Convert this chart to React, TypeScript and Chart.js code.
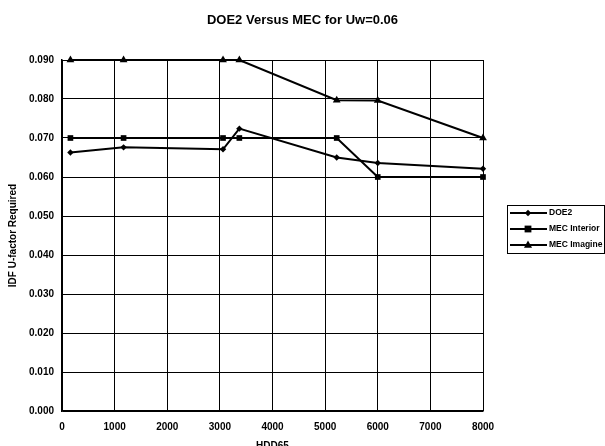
import React, { useEffect, useRef } from 'react';
import { Chart, registerables } from 'chart.js';

Chart.register(...registerables);

const hdd65 = [160, 1170, 3060, 3370, 5220, 6000, 8000];
const doe2 = [0.0663, 0.0676, 0.0671, 0.0724, 0.065, 0.0636, 0.0621];
const mecInterior = [0.07, 0.07, 0.07, 0.07, 0.07, 0.06, 0.06];
const mecImagine = [0.09, 0.09, 0.09, 0.09, 0.0797, 0.0796, 0.07];
const seriesNames = ['DOE2', 'MEC Interior', 'MEC Imagine'];
const pointStyles = ['rectRot', 'rect', 'triangle'];
const pointSizes = [3.2, 4, 4.5];

const FONT = '"Liberation Sans", Arial, sans-serif';

function drawMarker(ctx: CanvasRenderingContext2D, style: string, x: number, y: number, r: number) {
  ctx.beginPath();
  if (style === 'rectRot') {
    ctx.moveTo(x, y - r);
    ctx.lineTo(x + r, y);
    ctx.lineTo(x, y + r);
    ctx.lineTo(x - r, y);
  } else if (style === 'rect') {
    const s = r * 0.85;
    ctx.rect(x - s, y - s, s * 2, s * 2);
  } else {
    ctx.moveTo(x, y - r);
    ctx.lineTo(x + r * 0.9, y + r * 0.6);
    ctx.lineTo(x - r * 0.9, y + r * 0.6);
  }
  ctx.closePath();
  ctx.fill();
}

const boxLegend = {
  id: 'boxLegend',
  afterDraw(chart: any) {
    const ctx: CanvasRenderingContext2D = chart.ctx;
    const area = chart.chartArea;
    const x0 = area.right + 24;
    const y0 = 205;
    const w = 97;
    const rowH = 16;
    const h = rowH * chart.data.datasets.length;
    ctx.save();
    ctx.strokeStyle = '#000';
    ctx.lineWidth = 1;
    ctx.strokeRect(x0 + 0.5, y0 + 0.5, w, h);
    chart.data.datasets.forEach((ds: any, i: number) => {
      const y = y0 + 8 + i * rowH;
      ctx.strokeStyle = '#000';
      ctx.lineWidth = 2;
      ctx.beginPath();
      ctx.moveTo(x0 + 3, y);
      ctx.lineTo(x0 + 40, y);
      ctx.stroke();
      ctx.fillStyle = '#000';
      drawMarker(ctx, ds.pointStyle, x0 + 21, y, ds.pointRadius);
      ctx.font = `bold 8.5px ${FONT}`;
      ctx.textBaseline = 'middle';
      ctx.textAlign = 'left';
      ctx.fillText(ds.label, x0 + 42, y);
    });
    ctx.restore();
  },
};

export default function App() {
  const ref = useRef<HTMLCanvasElement | null>(null);

  useEffect(() => {
    if (!ref.current) return;
    const series = [doe2, mecInterior, mecImagine];
    const chart = new Chart(ref.current, {
      type: 'scatter',
      data: {
        datasets: series.map((vals, i) => ({
          label: seriesNames[i],
          data: hdd65.map((x, j) => ({ x, y: vals[j] })),
          showLine: true,
          clip: false,
          borderColor: '#000',
          backgroundColor: '#000',
          borderWidth: 2,
          pointStyle: pointStyles[i] as any,
          pointRadius: pointSizes[i],
          pointBackgroundColor: '#000',
          pointBorderColor: '#000',
          pointBorderWidth: 0,
        })),
      },
      options: {
        animation: false,
        responsive: false,
        layout: { padding: 0 },
        plugins: {
          legend: { display: false },
          tooltip: { enabled: false },
          title: {
            display: true,
            text: 'DOE2 Versus MEC for Uw=0.06',
            color: '#000',
            font: { family: FONT, size: 13, weight: 'bold' },
            padding: { top: 13, bottom: 31.4 },
          },
        },
        scales: {
          x: {
            type: 'linear',
            min: 0,
            max: 8000,
            ticks: {
              stepSize: 1000,
              padding: 10,
              color: '#000',
              maxRotation: 0,
              autoSkip: false,
              font: { family: FONT, size: 10, weight: 'bold' },
              callback: (v: any) => String(v),
            },
            grid: { color: '#000', lineWidth: 1, drawTicks: false },
            border: { color: '#000', width: 1.5 },
            title: {
              display: true,
              text: 'HDD65',
              color: '#000',
              font: { family: FONT, size: 10, weight: 'bold' },
              padding: { top: 0, bottom: -6 },
            },
            afterFit: (s: any) => {
              s.height = 35;
            },
          },
          y: {
            type: 'linear',
            min: 0,
            max: 0.09,
            ticks: {
              stepSize: 0.01,
              padding: 8,
              color: '#000',
              font: { family: FONT, size: 10, weight: 'bold' },
              callback: (v: any) => Number(v).toFixed(3),
            },
            grid: { color: '#000', lineWidth: 1, drawTicks: false },
            border: { color: '#000', width: 1.5 },
            title: {
              display: true,
              text: 'IDF U-factor Required',
              color: '#000',
              font: { family: FONT, size: 10, weight: 'bold' },
              padding: { top: 7, bottom: 0 },
            },
            afterFit: (s: any) => {
              s.width = 62;
            },
          },
          rightSpace: {
            type: 'linear',
            position: 'right',
            display: true,
            ticks: { display: false },
            grid: { display: false },
            border: { display: false },
            afterFit: (s: any) => {
              s.width = 122;
            },
          },
        },
      },
      plugins: [boxLegend],
    } as any);
    return () => chart.destroy();
  }, []);

  return (
    <div style={{ position: 'absolute', left: 0, top: 0, width: 605, height: 446, background: '#fff' }}>
      <canvas ref={ref} width={605} height={446} style={{ display: 'block' }} />
    </div>
  );
}
